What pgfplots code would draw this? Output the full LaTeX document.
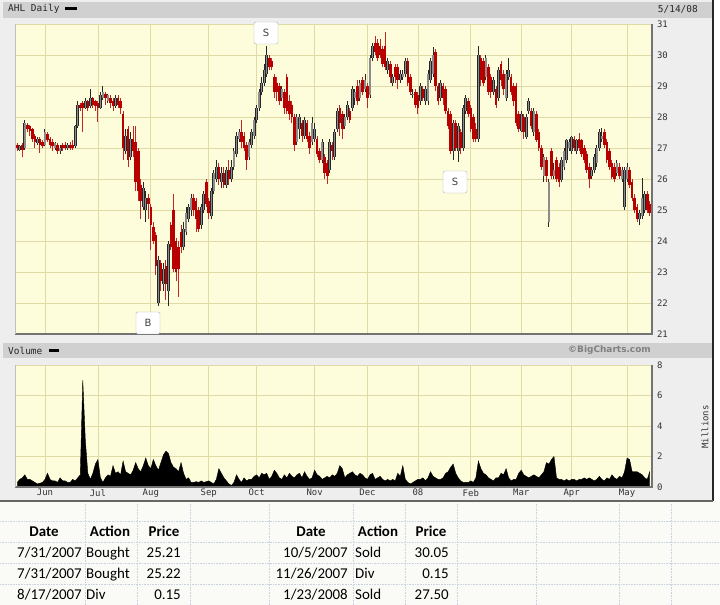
\documentclass[border=0pt]{standalone}
\usepackage{pgfplots}
\pgfplotsset{compat=1.18}
\usepackage{pgfplotstable}
\usepackage{fontspec}
\setmainfont{DejaVu Sans}
\newfontfamily\monofont{DejaVu Sans Mono}
\newfontfamily\tablefont{Carlito}

\definecolor{panel}{HTML}{FDFDDC}
\definecolor{gridc}{HTML}{E0DAA6}
\definecolor{frame}{HTML}{EEEEEE}
\definecolor{barc}{HTML}{D0D0D0}
\definecolor{downc}{HTML}{B80000}
\definecolor{upc}{HTML}{8C8C8C}
\definecolor{cellline}{HTML}{C9D3E0}
\definecolor{sheet}{HTML}{FAFAF6}

% daily candles: x = trading day (0 = 1 Jun 2007), k = u (up) / d (down)
\pgfplotstableread{
x o h l c k
-11 27.10 27.15 26.90 27.00 d
-10 26.95 27.10 26.90 27.05 u
-9 27.10 27.15 26.70 26.95 d
-8 27.00 27.90 26.95 27.80 u
-7 27.75 27.80 27.50 27.60 d
-6 27.70 27.75 27.40 27.55 d
-5 27.60 27.65 27.20 27.30 d
-4 27.40 27.45 27.00 27.20 d
-3 27.15 27.35 27.10 27.30 u
-2 27.30 27.35 26.85 27.10 d
-1 27.20 27.25 27.00 27.05 d
0 27.10 27.60 27.05 27.50 u
1 27.45 27.50 27.20 27.25 d
2 27.30 27.35 27.00 27.10 d
3 27.20 27.30 26.90 27.05 d
4 27.00 27.20 26.95 27.15 u
5 27.10 27.15 26.80 26.90 d
6 26.90 27.10 26.80 27.00 u
7 27.10 27.15 26.90 27.00 d
8 27.10 27.20 26.95 27.00 d
9 27.00 27.15 26.95 27.10 u
10 27.10 27.20 26.95 27.00 d
11 27.10 27.25 26.95 27.00 d
12 27.05 27.75 27.00 27.70 u
13 27.70 28.50 27.65 28.40 u
14 28.40 28.45 28.20 28.30 d
15 28.45 28.50 27.50 28.30 d
16 28.30 28.60 28.25 28.50 u
17 28.50 28.55 28.20 28.30 d
18 28.35 28.90 28.30 28.60 u
19 28.60 28.65 28.30 28.40 d
20 28.50 28.55 28.20 28.35 d
21 28.45 28.50 27.85 28.30 d
22 28.30 28.80 28.25 28.70 u
23 28.60 29.00 28.55 28.80 u
24 28.75 28.80 28.40 28.60 d
25 28.50 28.75 28.45 28.70 u
26 28.60 28.70 28.30 28.45 d
27 28.50 28.60 28.20 28.35 d
28 28.35 28.70 28.30 28.60 u
29 28.60 28.70 28.30 28.40 d
30 28.50 28.60 28.10 28.30 d
31 28.10 28.20 26.60 27.00 d
32 26.90 27.60 26.80 27.40 u
33 27.60 27.70 26.40 26.60 d
34 26.70 27.50 26.60 27.30 u
35 27.30 27.70 26.70 26.90 d
36 27.20 27.70 25.60 25.90 d
37 26.90 27.00 25.30 25.60 d
38 25.80 26.00 24.70 25.30 d
39 25.10 25.90 25.00 25.70 u
40 25.00 25.60 24.60 25.40 u
41 25.40 25.50 24.70 25.20 d
42 25.10 25.20 23.70 24.50 d
43 24.45 24.60 23.90 24.00 d
44 24.20 24.30 22.90 23.20 d
45 22.00 23.50 21.90 23.40 u
46 23.30 23.40 22.40 22.70 d
47 22.60 23.30 22.40 23.10 u
48 23.20 23.40 22.10 22.60 d
49 22.40 24.00 21.90 23.90 u
50 24.50 24.60 23.70 23.80 d
51 25.00 25.50 23.00 23.10 d
52 24.00 24.10 22.70 23.00 d
53 23.80 24.00 22.20 23.10 d
54 24.30 24.50 23.60 23.80 d
55 23.80 24.60 23.70 24.40 u
56 24.30 25.10 24.20 24.90 u
57 24.70 25.20 24.60 25.10 u
58 25.00 25.50 24.80 25.40 u
59 25.40 25.50 24.80 25.00 d
60 25.30 25.40 24.30 24.70 d
61 25.00 25.10 24.30 24.40 d
62 24.50 25.20 24.40 25.10 u
63 25.00 25.60 24.90 25.50 u
64 25.90 26.00 25.10 25.20 d
65 25.30 25.40 24.70 24.90 d
66 24.80 25.70 24.70 25.60 u
67 25.60 26.30 25.50 26.20 u
68 26.00 26.60 25.90 26.40 u
69 26.40 26.50 25.80 26.00 d
70 25.90 26.40 25.70 26.20 u
71 26.20 26.40 25.70 25.80 d
72 25.80 26.40 25.70 26.30 u
73 26.30 26.60 25.80 26.00 d
74 26.00 26.60 25.90 26.40 u
75 26.40 27.00 26.30 26.90 u
76 26.80 27.50 26.70 27.40 u
77 27.30 27.60 27.20 27.50 u
78 27.50 27.90 27.00 27.20 d
79 27.40 27.50 26.90 27.00 d
80 27.10 27.20 26.30 26.60 d
81 26.70 27.30 26.60 27.20 u
82 27.10 27.60 27.00 27.50 u
83 27.40 28.00 27.30 27.90 u
84 27.90 28.40 27.80 28.30 u
85 28.30 28.90 28.20 28.80 u
86 28.80 29.30 28.70 29.10 u
87 29.10 29.70 29.00 29.50 u
88 29.40 30.30 29.30 30.00 u
89 29.90 30.00 29.50 29.60 d
90 29.80 29.90 29.50 29.60 d
91 29.30 29.40 28.60 28.80 d
92 29.10 29.30 28.50 28.80 d
93 29.00 29.10 28.40 28.50 d
94 28.60 29.00 28.50 28.90 u
95 28.80 28.90 28.10 28.30 d
96 29.30 29.40 28.10 28.20 d
97 28.50 28.70 27.90 28.10 d
98 28.40 28.50 27.80 28.00 d
99 28.00 28.10 26.90 27.10 d
100 27.20 28.10 27.10 28.00 u
101 27.60 28.10 27.30 28.00 u
102 27.80 27.90 27.20 27.40 d
103 27.40 28.00 27.30 27.90 u
104 27.80 27.90 27.20 27.30 d
105 27.40 27.50 26.80 27.00 d
106 27.20 28.00 27.10 27.80 u
107 27.30 27.80 27.20 27.60 u
108 27.30 27.40 26.70 26.80 d
109 26.90 27.00 26.50 26.60 d
110 26.60 27.30 26.50 27.20 u
111 26.70 26.80 26.00 26.20 d
112 26.50 26.60 25.85 26.10 d
113 26.30 27.30 26.20 27.20 u
114 27.10 27.20 26.60 26.90 d
115 26.70 27.60 26.60 27.50 u
116 27.60 28.30 27.50 28.20 u
117 28.30 28.40 27.40 27.80 d
118 28.10 28.20 27.30 27.60 d
119 27.70 28.10 27.60 28.00 u
120 28.00 28.50 27.90 28.40 u
121 28.20 28.30 27.80 27.90 d
122 28.30 29.00 28.20 28.90 u
123 28.60 28.90 28.40 28.80 u
124 29.00 29.20 28.40 28.50 d
125 28.60 29.20 28.50 29.10 u
126 29.20 29.30 28.70 28.80 d
127 28.90 29.40 28.80 29.20 u
128 29.00 29.10 28.30 28.60 d
129 28.70 30.00 28.60 29.90 u
130 29.90 30.40 29.80 30.30 u
131 30.40 30.60 30.00 30.10 d
132 30.40 30.50 29.80 29.90 d
133 30.30 30.50 29.90 30.00 d
134 30.20 30.30 29.60 29.70 d
135 30.30 30.75 29.50 29.60 d
136 29.50 29.90 29.40 29.80 u
137 29.70 29.80 29.10 29.30 d
138 29.10 29.40 29.00 29.30 u
139 29.60 29.70 29.10 29.30 d
140 29.60 29.70 28.90 29.20 d
141 29.20 29.50 29.10 29.40 u
142 29.30 29.50 29.20 29.40 u
143 29.40 29.90 29.30 29.80 u
144 29.80 29.90 29.00 29.10 d
145 29.30 29.40 28.70 28.80 d
146 28.70 28.90 28.60 28.75 u
147 28.80 28.90 28.30 28.40 d
148 28.70 28.80 28.10 28.30 d
149 28.50 29.10 28.40 29.00 u
150 28.90 29.00 28.50 28.60 d
151 28.50 29.00 28.40 28.90 u
152 28.50 29.50 28.40 29.40 u
153 29.20 29.90 29.10 29.80 u
154 29.40 30.25 29.30 30.00 u
155 30.10 30.20 28.85 29.00 d
156 29.00 29.10 28.40 28.50 d
157 28.60 29.20 28.50 29.10 u
158 29.00 29.10 28.40 28.60 d
159 28.90 29.00 28.10 28.20 d
160 28.20 28.30 27.60 27.70 d
161 28.10 28.20 26.80 26.90 d
162 26.90 27.90 26.60 27.80 u
163 27.80 27.90 26.90 27.00 d
164 26.90 27.80 26.55 27.70 u
165 27.50 27.60 26.80 27.00 d
166 27.00 28.40 26.90 28.30 u
167 28.20 28.70 28.10 28.60 u
168 28.50 28.60 28.00 28.10 d
169 28.30 28.40 27.50 27.60 d
170 28.00 28.10 27.20 27.30 d
171 27.60 27.80 27.20 27.30 d
172 27.30 30.30 27.20 30.00 u
173 29.90 30.00 29.00 29.20 d
174 29.80 29.90 29.00 29.10 d
175 29.30 30.00 29.20 29.90 u
176 29.60 29.70 28.70 28.80 d
177 29.30 29.40 28.60 28.80 d
178 28.80 29.30 28.70 29.20 u
179 28.90 29.00 28.30 28.40 d
180 28.60 29.60 28.50 29.50 u
181 29.70 29.80 29.00 29.20 d
182 29.40 29.50 28.70 28.90 d
183 28.60 29.50 28.50 29.40 u
184 29.30 29.90 29.20 29.50 u
185 29.30 29.40 28.70 28.80 d
186 29.00 29.10 28.35 28.50 d
187 29.00 29.10 27.70 27.80 d
188 28.10 28.20 27.50 27.60 d
189 27.55 28.20 27.50 28.10 u
190 28.00 28.10 27.30 27.50 d
191 27.35 28.10 27.30 28.00 u
192 28.20 28.60 28.10 28.50 u
193 28.20 28.30 27.60 27.70 d
194 27.50 28.30 27.40 28.20 u
195 28.10 28.20 27.20 27.26 d
196 27.50 27.60 26.90 27.00 d
197 27.00 27.10 26.30 26.40 d
198 26.10 26.80 25.90 26.70 u
199 26.60 26.70 25.90 26.10 d
200 24.60 26.00 24.45 25.90 u
201 26.90 27.00 26.00 26.10 d
202 26.10 26.50 26.00 26.30 u
203 26.60 26.70 25.90 26.00 d
204 26.40 26.50 25.75 25.90 d
205 25.97 26.70 25.90 26.60 u
206 26.40 27.00 26.30 26.90 u
207 26.60 27.30 26.50 27.26 u
208 27.00 27.30 26.90 27.20 u
209 26.90 27.40 26.80 27.35 u
210 27.30 27.40 26.90 27.00 d
211 26.90 27.30 26.80 27.26 u
212 27.30 27.48 26.90 27.00 d
213 27.26 27.30 26.70 26.80 d
214 27.00 27.10 26.50 26.60 d
215 26.80 26.90 26.20 26.30 d
216 26.40 26.50 25.70 26.00 d
217 26.10 26.40 26.00 26.30 u
218 26.30 26.80 26.20 26.70 u
219 26.50 27.10 26.40 27.00 u
220 27.00 27.60 26.90 27.50 u
221 27.30 27.65 27.20 27.40 u
222 27.50 27.60 27.00 27.10 d
223 27.20 27.30 26.50 26.60 d
224 26.90 27.00 26.30 26.40 d
225 26.50 26.60 26.00 26.06 d
226 26.40 26.50 25.90 26.00 d
227 26.20 26.60 26.10 26.50 u
228 26.40 26.50 26.00 26.10 d
229 26.00 26.40 25.90 26.30 u
230 25.10 26.40 25.00 26.30 u
231 26.00 26.50 25.90 26.40 u
232 26.30 26.40 25.70 25.80 d
233 25.90 26.00 25.30 25.40 d
234 25.40 25.50 24.90 25.00 d
235 25.10 25.20 24.60 24.70 d
236 24.70 25.00 24.50 24.90 u
237 24.80 26.03 24.70 25.40 u
238 25.00 25.60 24.90 25.50 u
239 25.50 25.60 24.90 25.00 d
240 25.20 25.30 24.80 24.90 d
}\candles

% daily volume, millions of shares
\pgfplotstableread{
x v
-11 0.3
-10 0.5
-9 0.6
-8 0.8
-7 0.5
-6 0.5
-5 0.4
-4 0.3
-3 0.2
-2 0.25
-1 0.3
0 0.5
1 0.9
2 0.5
3 0.4
4 0.4
5 0.3
6 0.6
7 0.4
8 0.4
9 0.3
10 0.3
11 0.5
12 0.4
13 0.6
14 0.8
15 7.0
16 3.1
17 0.9
18 0.5
19 0.9
20 1.5
21 1.8
22 0.6
23 0.3
24 0.6
25 0.8
26 0.7
27 1.4
28 0.9
29 1.0
30 0.8
31 1.7
32 1.0
33 0.9
34 0.8
35 1.1
36 1.6
37 1.2
38 1.0
39 1.4
40 1.9
41 1.4
42 1.2
43 1.8
44 1.4
45 1.1
46 1.6
47 2.1
48 2.35
49 2.2
50 1.6
51 1.3
52 1.2
53 1.0
54 1.6
55 0.9
56 0.5
57 0.6
58 0.3
59 0.3
60 0.35
61 0.3
62 0.4
63 0.3
64 0.35
65 0.4
66 0.3
67 0.2
68 0.5
69 1.2
70 0.9
71 0.6
72 0.4
73 0.2
74 0.1
75 0.3
76 0.8
77 0.5
78 0.3
79 0.6
80 0.4
81 0.5
82 0.5
83 0.7
84 0.8
85 0.6
86 0.9
87 0.8
88 0.9
89 0.5
90 0.7
91 1.1
92 0.9
93 0.6
94 0.5
95 0.8
96 0.6
97 0.9
98 0.7
99 0.6
100 0.8
101 0.9
102 0.6
103 1.0
104 0.7
105 0.5
106 0.6
107 1.1
108 0.8
109 0.7
110 0.5
111 0.6
112 0.7
113 0.6
114 0.8
115 0.7
116 0.9
117 1.4
118 1.2
119 0.6
120 0.8
121 0.9
122 1.0
123 0.8
124 0.7
125 0.9
126 0.8
127 0.6
128 0.5
129 0.8
130 0.9
131 0.5
132 0.6
133 0.7
134 0.5
135 0.4
136 0.5
137 0.4
138 0.5
139 0.4
140 0.9
141 0.7
142 1.4
143 0.5
144 0.3
145 0.2
146 0.3
147 0.4
148 0.5
149 0.5
150 0.6
151 0.4
152 0.6
153 1.0
154 0.7
155 0.6
156 0.5
157 0.5
158 0.6
159 0.9
160 1.0
161 1.3
162 1.5
163 0.9
164 0.6
165 0.4
166 0.3
167 0.3
168 0.3
169 0.4
170 0.3
171 0.6
172 1.7
173 1.2
174 0.9
175 0.8
176 0.6
177 0.5
178 0.4
179 0.6
180 0.6
181 0.9
182 0.8
183 1.2
184 0.6
185 0.4
186 0.5
187 0.5
188 0.9
189 1.1
190 0.8
191 0.7
192 0.6
193 0.7
194 0.8
195 0.7
196 0.6
197 0.8
198 1.0
199 1.6
200 1.5
201 1.8
202 2.0
203 0.6
204 0.5
205 0.5
206 0.4
207 0.5
208 0.4
209 0.5
210 0.5
211 0.4
212 0.5
213 0.5
214 0.6
215 0.5
216 0.6
217 0.5
218 0.4
219 0.5
220 0.7
221 0.5
222 0.4
223 0.6
224 0.5
225 0.8
226 0.6
227 0.5
228 0.7
229 0.6
230 1.0
231 1.9
232 1.8
233 1.0
234 1.0
235 1.0
236 0.9
237 0.8
238 0.6
239 0.5
240 1.0
}\volume

\pgfplotsset{
  panel/.style={
    scale only axis, width=637bp,
    xmin=-11.9, xmax=240.9,
    axis background/.style={fill=panel},
    axis line style={draw=none},
    xtick={0,21,42,65,84,107,128,148,169,189,209,231},
    grid=major, major grid style={gridc, line width=0.8bp},
    major tick length=0pt,
    yticklabel pos=right,
    /pgf/number format/assume math mode=true,
    ticklabel style={font=\monofont\fontsize{9}{10}\selectfont, text=black!80},
    yticklabel style={anchor=west, xshift=1.5bp},
    clip=true,
  },
}

\pgfplotstablegetrowsof{\candles}
\pgfmathtruncatemacro{\lastrow}{\pgfplotsretval-1}
\edef\upkey{u}

\begin{document}
\begin{tikzpicture}[x=1bp,y=1bp]
\useasboundingbox (0,0) rectangle (720,605);
% chart frame and spreadsheet area
\fill[frame] (0,105) rectangle (713,605);
\fill[sheet] (0,0) rectangle (720,104);
% header bars
\fill[barc] (3,587) rectangle (713,603);
\fill[barc] (3,247) rectangle (713,262);
\node[anchor=west, font=\monofont\fontsize{9.5}{10}\selectfont, text=black!85, inner sep=0] at (8,596) {AHL Daily};
\fill[black] (65,594.5) rectangle (77,597.5);
\node[anchor=east, font=\monofont\fontsize{9.5}{10}\selectfont, text=black!85, inner sep=0] at (698,596) {5/14/08};
\node[anchor=west, font=\monofont\fontsize{9.5}{10}\selectfont, text=black!85, inner sep=0] at (8,254.5) {Volume};
\fill[black] (49,253) rectangle (59,256);
\node[anchor=east, font=\bfseries\fontsize{9}{10}\selectfont, text=black!50, inner sep=0] at (651,254.5) {\textcopyright BigCharts.com};

% price panel: one wick and one body per trading day
\begin{axis}[panel, at={(15bp,271bp)}, anchor=south west, height=310bp,
  ymin=21, ymax=31, ytick={21,22,...,31}, xticklabels={}]
  \pgfplotsforeachungrouped \i in {0,...,\lastrow}{%
    \pgfplotstablegetelem{\i}{x}\of\candles \edef\cx{\pgfplotsretval}%
    \pgfplotstablegetelem{\i}{o}\of\candles \edef\co{\pgfplotsretval}%
    \pgfplotstablegetelem{\i}{h}\of\candles \edef\ch{\pgfplotsretval}%
    \pgfplotstablegetelem{\i}{l}\of\candles \edef\cl{\pgfplotsretval}%
    \pgfplotstablegetelem{\i}{c}\of\candles \edef\cc{\pgfplotsretval}%
    \pgfplotstablegetelem{\i}{k}\of\candles \edef\ck{\pgfplotsretval}%
    \ifx\ck\upkey
      \edef\next{%
        \noexpand\addplot[forget plot, black!85, line width=1bp] coordinates {(\cx,\cl) (\cx,\ch)};
        \noexpand\addplot[forget plot, black!85, line width=2.8bp] coordinates {(\cx,\co) (\cx,\cc)};
        \noexpand\addplot[forget plot, upc, line width=1.4bp] coordinates {(\cx,\co) (\cx,\cc)};
      }%
    \else
      \edef\next{%
        \noexpand\addplot[forget plot, downc!85, line width=1bp] coordinates {(\cx,\cl) (\cx,\ch)};
        \noexpand\addplot[forget plot, downc, line width=2.6bp] coordinates {(\cx,\co) (\cx,\cc)};
      }%
    \fi
    \next
  }
\end{axis}

% volume panel
\begin{axis}[panel, at={(15bp,118bp)}, anchor=south west, height=122bp,
  ymin=0, ymax=8, ytick={0,2,4,6,8},
  xticklabels={Jun,Jul,Aug,Sep,Oct,Nov,Dec,08,Feb,Mar,Apr,May},
  xticklabel style={anchor=north, yshift=-1bp, inner sep=1bp}]
  \addplot[fill=black, draw=black, line width=0.4bp] table[x=x, y=v] {\volume} \closedcycle;
\end{axis}

% panel edges
\draw[black!55, line width=1.6bp] (15,271) -- (652,271) -- (652,581);
\draw[black!25, line width=0.6bp] (15,271) -- (15,581);
\draw[black!55, line width=1.6bp] (15,118) -- (652,118) -- (652,240);
\draw[black!25, line width=0.6bp] (15,118) -- (15,240);
\node[rotate=90, font=\monofont\fontsize{9}{10}\selectfont, text=black!80] at (705,178) {Millions};

% trade markers
\tikzset{trade/.style={draw=black!30, fill=white, rounded corners=1.5bp, minimum width=24bp, minimum height=22bp, inner sep=0, font=\fontsize{10}{10}\selectfont, text=black!75}}
\node[trade] at (266,572) {S};
\node[trade] at (455,423) {S};
\node[trade] at (148,282) {B};

% outer border of chart
\draw[black!85, line width=1.6bp] (713,605) -- (713,104);
\draw[black!60, line width=1.6bp] (0,104) -- (713,104);

% spreadsheet cells
\begin{scope}[cellline, line width=0.6bp, densely dotted]
  \foreach \xx in {85,137,190,269,353,405,457,536,619,671}
    \draw (\xx,0) -- (\xx,102);
  \foreach \yy in {84,63,42,21}
    \draw (0,\yy) -- (720,\yy);
\end{scope}
\begin{scope}[font=\tablefont\fontsize{15}{17}\selectfont, inner sep=0]
  \node[anchor=base, font=\tablefont\bfseries\fontsize{15}{17}\selectfont] at (44,68) {Date};
  \node[anchor=base, font=\tablefont\bfseries\fontsize{15}{17}\selectfont] at (110,68) {Action};
  \node[anchor=base, font=\tablefont\bfseries\fontsize{15}{17}\selectfont] at (164,68) {Price};
  \node[anchor=base, font=\tablefont\bfseries\fontsize{15}{17}\selectfont] at (311,68) {Date};
  \node[anchor=base, font=\tablefont\bfseries\fontsize{15}{17}\selectfont] at (378,68) {Action};
  \node[anchor=base, font=\tablefont\bfseries\fontsize{15}{17}\selectfont] at (431,68) {Price};
  \node[anchor=base east] at (82,47) {7/31/2007};
  \node[anchor=base west] at (86,47) {Bought};
  \node[anchor=base east] at (181,47) {25.21};
  \node[anchor=base east] at (82,26) {7/31/2007};
  \node[anchor=base west] at (86,26) {Bought};
  \node[anchor=base east] at (181,26) {25.22};
  \node[anchor=base east] at (82,5) {8/17/2007};
  \node[anchor=base west] at (86,5) {Div};
  \node[anchor=base east] at (181,5) {0.15};
  \node[anchor=base east] at (348,47) {10/5/2007};
  \node[anchor=base west] at (355,47) {Sold};
  \node[anchor=base east] at (449,47) {30.05};
  \node[anchor=base east] at (348,26) {11/26/2007};
  \node[anchor=base west] at (355,26) {Div};
  \node[anchor=base east] at (449,26) {0.15};
  \node[anchor=base east] at (348,5) {1/23/2008};
  \node[anchor=base west] at (355,5) {Sold};
  \node[anchor=base east] at (449,5) {27.50};
\end{scope}
\end{tikzpicture}
\end{document}
